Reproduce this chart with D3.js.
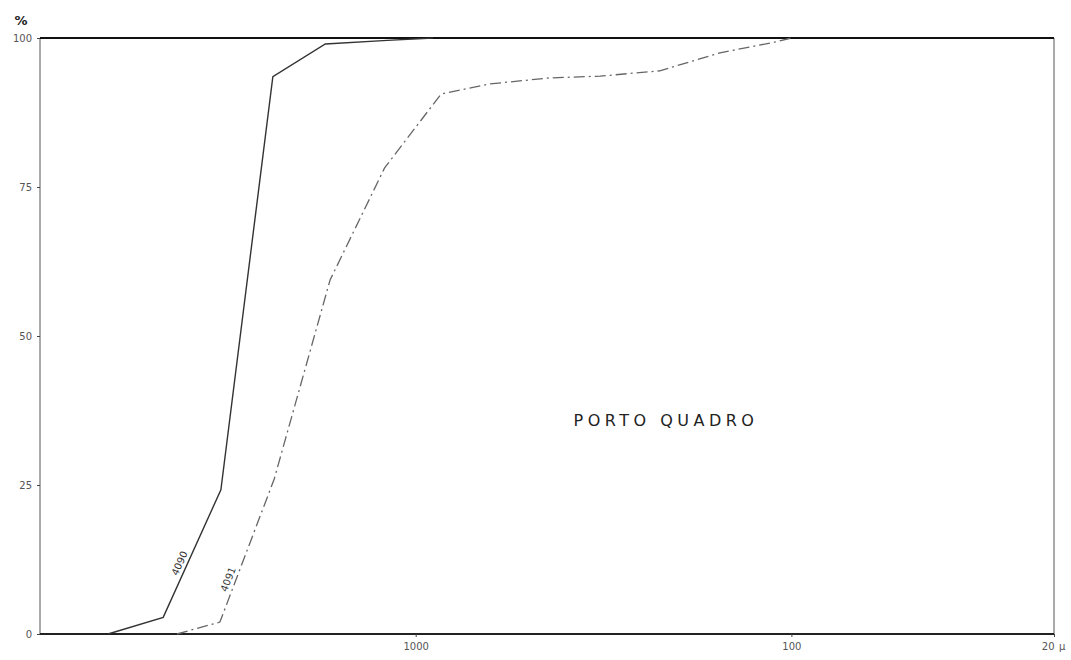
<!DOCTYPE html>
<html lang="en">
	<head>
		<meta charset="utf-8">
		<title>Porto Quadro</title>
		<script type="text/javascript" src="https://cdn.jsdelivr.net/npm/d3@7"></script>
		<style type="text/css">
        body {
                margin: 0;
                background-color: white;
                font-family: "DejaVu Sans", sans-serif;
            }

        svg {
                background-color: white;
            }

        .axis path {
                display: none;
            }

        .axis line {
                stroke: #444;
            }

        .axis text {
                font-family: "DejaVu Sans";
                font-size: 10px;
                fill: #555;
            }

        .curve-label {
                font-family: "DejaVu Sans";
                font-size: 10px;
                fill: #333;
            }

        .title {
                font-family: "DejaVu Sans";
                font-size: 16px;
                letter-spacing: 4.5px;
                fill: #222;
            }
		</style>
    </head>
    <body>
        <svg id="chart"></svg>

        <script type="text/javascript">

            // grain size (micron) and cumulative percent
            var sizes4090 = [6590, 4700, 3300, 2400, 1740, 1190, 900];
            var pct4090   = [0, 2.8, 24.2, 93.5, 99.0, 99.6, 100];

            var sizes4091 = [4320, 3320, 2380, 1690, 1210, 856, 634, 440, 323, 224, 155, 111, 100];
            var pct4091   = [0, 2.0, 26.0, 59.4, 78.2, 90.6, 92.3, 93.3, 93.6, 94.5, 97.5, 99.3, 100];

            var xTicks = [1000, 100, 20];
            var xTickLabels = ["1000", "100", "20"];
            var yTicks = [0, 25, 50, 75, 100];

            var fullwidth = 1071;
            var fullheight = 660;
            var margin = {top: 38, right: 17, bottom: 26, left: 40};

            var svg = d3.select("#chart")
                    .attr("width", fullwidth)
                    .attr("height", fullheight);

            // reversed log scale: coarse on the left
            var x = d3.scaleLog()
                    .domain([10000, 20])
                    .range([margin.left, fullwidth - margin.right]);

            var y = d3.scaleLinear()
                    .domain([0, 100])
                    .range([fullheight - margin.bottom, margin.top]);

            // frame
            svg.append("line")
                .attr("x1", x.range()[0]).attr("x2", x.range()[0])
                .attr("y1", y(0)).attr("y2", y(100))
                .attr("stroke", "#555").attr("stroke-width", 1);
            svg.append("line")
                .attr("x1", x.range()[1]).attr("x2", x.range()[1])
                .attr("y1", y(0)).attr("y2", y(100))
                .attr("stroke", "#555").attr("stroke-width", 1);
            svg.append("line")
                .attr("x1", x.range()[0]).attr("x2", x.range()[1])
                .attr("y1", y(100)).attr("y2", y(100))
                .attr("stroke", "#111").attr("stroke-width", 2);
            svg.append("line")
                .attr("x1", x.range()[0]).attr("x2", x.range()[1])
                .attr("y1", y(0)).attr("y2", y(0))
                .attr("stroke", "#222").attr("stroke-width", 2);

            // axes
            svg.append("g")
                .attr("class", "axis")
                .attr("transform", "translate(" + margin.left + ",0)")
                .call(d3.axisLeft(y).tickValues(yTicks).tickSize(3).tickPadding(5));

            var xAxis = svg.append("g")
                .attr("class", "axis")
                .attr("transform", "translate(0," + y(0) + ")")
                .call(d3.axisBottom(x)
                    .tickValues(xTicks)
                    .tickSize(3)
                    .tickPadding(6)
                    .tickFormat(function(d, i) { return xTickLabels[i]; }));

            xAxis.selectAll(".tick text")
                .filter(function(d) { return d === 20; })
                .attr("text-anchor", "end");

            xAxis.append("text")
                .attr("x", x(20) + 5)
                .attr("y", 9)
                .attr("dy", "0.71em")
                .attr("text-anchor", "start")
                .text("\u03bc");

            svg.append("text")
                .attr("x", 21)
                .attr("y", 25)
                .attr("text-anchor", "middle")
                .style("font", "bold 13px 'DejaVu Sans'")
                .attr("fill", "#222")
                .text("%");

            // curves
            var line = d3.line()
                .x(function(d) { return x(d[0]); })
                .y(function(d) { return y(d[1]); });

            var data4090 = d3.zip(sizes4090, pct4090);
            var data4091 = d3.zip(sizes4091, pct4091);

            svg.append("path")
                .datum(data4090)
                .attr("fill", "none")
                .attr("stroke", "#333")
                .attr("stroke-width", 1.4)
                .attr("d", line);

            svg.append("path")
                .datum(data4091)
                .attr("fill", "none")
                .attr("stroke", "#666")
                .attr("stroke-width", 1.3)
                .attr("stroke-dasharray", "11,4,2,4")
                .attr("d", line);

            // sample labels sitting on a segment of each curve
            function curveLabel(data, i, t, txt) {
                var x0 = x(data[i][0]), y0 = y(data[i][1]);
                var x1 = x(data[i + 1][0]), y1 = y(data[i + 1][1]);
                var px = x0 + (x1 - x0) * t, py = y0 + (y1 - y0) * t;
                var ang = Math.atan2(y1 - y0, x1 - x0) * 180 / Math.PI;
                svg.append("text")
                    .attr("class", "curve-label")
                    .attr("transform", "translate(" + px + "," + py + ") rotate(" + ang + ")")
                    .attr("text-anchor", "middle")
                    .attr("dy", "-0.4em")
                    .text(txt);
            }

            curveLabel(data4090, 1, 0.4, "4090");
            curveLabel(data4091, 1, 0.28, "4091");

            svg.append("text")
                .attr("class", "title")
                .attr("x", 666)
                .attr("y", 426)
                .attr("text-anchor", "middle")
                .text("PORTO QUADRO");

        </script>
    </body>
</html>
